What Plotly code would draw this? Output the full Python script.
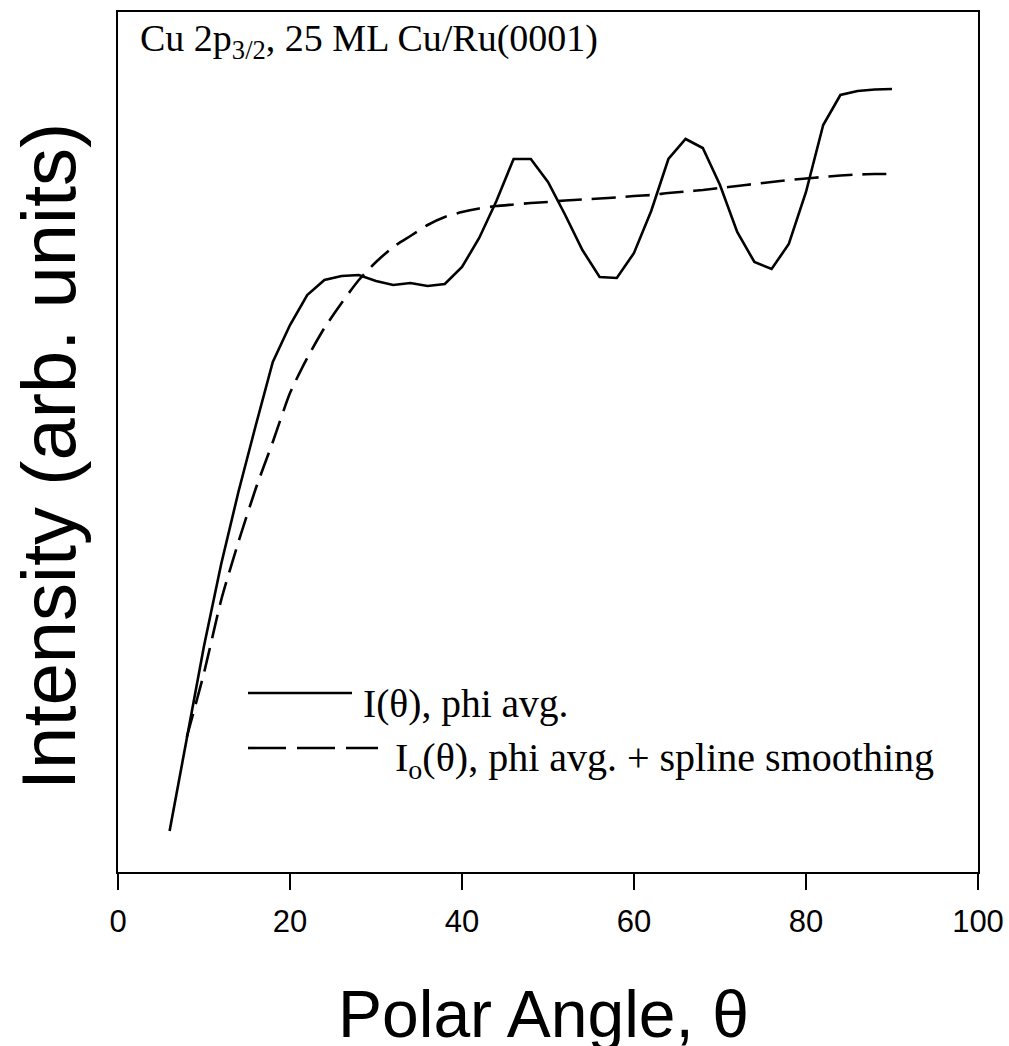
import plotly.graph_objects as go

# Polar angle (degrees)
theta_I = [6, 8, 10, 12, 14, 16, 18, 20, 22, 24, 26, 28, 30, 32, 34, 36, 38, 40,
           42, 44, 46, 48, 50, 52, 54, 56, 58, 60, 62, 64, 66, 68, 70, 72, 74, 76,
           78, 80, 82, 84, 86, 88, 90]
# I(theta), phi averaged (arb. units)
intensity_I = [41, 133, 226, 308, 380, 446, 510, 547, 577, 592, 596, 597, 591, 587,
               589, 586, 588, 605, 634, 671, 713, 713, 690, 657, 622, 595, 594, 619,
               661, 713, 733, 724, 687, 640, 610, 603, 628, 680, 747, 777, 781, 782.5, 783]

theta_I0 = [8, 10, 12, 14, 16, 18, 20, 22, 24, 26, 28, 30, 32, 34, 36, 38, 40, 42,
            44, 46, 48, 50, 52, 54, 56, 58, 60, 62, 64, 66, 68, 70, 72, 74, 76, 78,
            80, 82, 84, 86, 88, 90]
# I0(theta), phi averaged + spline smoothing (arb. units)
intensity_I0 = [135, 199, 272, 330, 383, 430, 479, 514, 544, 569, 592, 610, 625, 636,
                647, 655, 660, 663.5, 666, 667.5, 669, 670, 671.5, 672.5, 673.5, 674.5,
                676, 677, 679, 680.5, 682, 684, 686, 688, 690, 692, 693.5, 695, 696.5,
                697.5, 698, 698]

x_ticks = [0, 20, 40, 60, 80, 100]
x_tick_labels = ["0", "20", "40", "60", "80", "100"]

SANS = "Liberation Sans, Arial, sans-serif"
SERIF = "Liberation Serif, Times New Roman, serif"

W, H = 1009, 1046
L, R, T, B = 118, 31, 12, 174
PW, PH = W - L - R, H - T - B


def px(x):
    return (x - L) / PW


def py(y):
    return (H - B - y) / PH


fig = go.Figure()
fig.add_trace(go.Scatter(x=theta_I, y=intensity_I, mode="lines",
                         line=dict(color="black", width=2.6),
                         showlegend=False, name="I(θ), phi avg."))
fig.add_trace(go.Scatter(x=theta_I0, y=intensity_I0, mode="lines",
                         line=dict(color="black", width=2.6, dash="24px,10px",
                                   shape="spline", smoothing=0.6),
                         showlegend=False, name="Io(θ), phi avg. + spline smoothing"))

shapes = [
    dict(type="line", xref="paper", yref="paper", x0=px(248), x1=px(352),
         y0=py(693), y1=py(693), line=dict(color="black", width=2.6)),
    dict(type="line", xref="paper", yref="paper", x0=px(248), x1=px(378),
         y0=py(748), y1=py(748), line=dict(color="black", width=2.6, dash="38px,11px")),
]

annotations = [
    dict(text="Cu 2p<sub>3/2</sub>, 25 ML Cu/Ru(0001)", xref="paper", yref="paper",
         x=px(138), y=py(41), xanchor="left", yanchor="middle", showarrow=False,
         font=dict(family=SERIF, size=38, color="black")),
    dict(text="I(θ), phi avg.", xref="paper", yref="paper",
         x=px(361), y=py(704), xanchor="left", yanchor="middle", showarrow=False,
         font=dict(family=SERIF, size=39.5, color="black")),
    dict(text="I<sub>o</sub>(θ), phi avg. + spline smoothing", xref="paper", yref="paper",
         x=px(393), y=py(760), xanchor="left", yanchor="middle", showarrow=False,
         font=dict(family=SERIF, size=40, color="black")),
    dict(text="Polar Angle, θ", xref="paper", yref="paper",
         x=px(543), y=py(1014), xanchor="center", yanchor="middle", showarrow=False,
         font=dict(family=SANS, size=66, color="black")),
    dict(text="Intensity (arb. units)", xref="paper", yref="paper",
         x=px(48), y=py(457), xanchor="center", yanchor="middle", showarrow=False,
         textangle=-90, font=dict(family=SANS, size=76, color="black")),
]

fig.update_layout(
    width=W, height=H,
    margin=dict(l=L, r=R, t=T, b=B, autoexpand=False),
    paper_bgcolor="white", plot_bgcolor="white",
    shapes=shapes, annotations=annotations,
    showlegend=False,
)
fig.update_xaxes(range=[0, 100], tickvals=x_ticks, ticktext=x_tick_labels,
                 ticks="outside", ticklen=16, tickwidth=2, tickcolor="black",
                 ticklabelstandoff=5, automargin=False,
                 showline=True, linecolor="black", linewidth=2, mirror=True,
                 showgrid=False, zeroline=False,
                 tickfont=dict(family=SANS, size=31, color="black"))
fig.update_yaxes(range=[0, 860], showticklabels=False, ticks="", automargin=False,
                 showline=True, linecolor="black", linewidth=2, mirror=True,
                 showgrid=False, zeroline=False)

fig.write_html("out.html",
               config={"displayModeBar": False},
               post_script="document.body.style.margin='0';"
                           "document.body.style.overflow='hidden';")
